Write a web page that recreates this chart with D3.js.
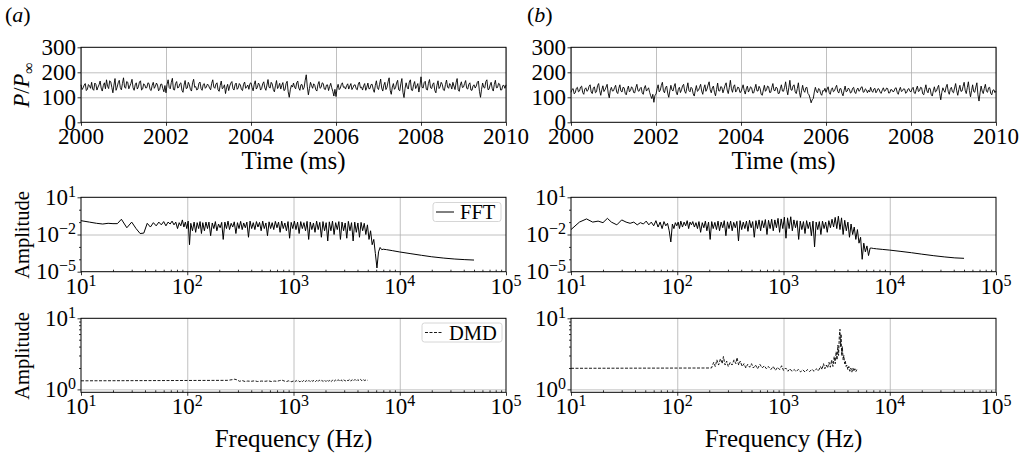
<!DOCTYPE html>
<html>
<head>
<meta charset="utf-8">
<script src="https://d3js.org/d3.v7.min.js"></script>
<style>
  body { margin:0; background:#fff; }
  svg { display:block; font-family:"Liberation Serif", "DejaVu Serif", serif; }
  .grid line { stroke:#b0b0b0; stroke-width:0.8; }
  .grid path, .tk path { display:none; }
  .tk line { stroke:#000; stroke-width:0.8; }
  .frame { fill:none; stroke:#000; stroke-width:1; }
  .lbl { fill:#000; }
</style>
</head>
<body>
<svg width="1025" height="455"></svg>
<script>
// ---------- data ----------
var timeStart = 2000, timeStep = 0.025;   // ms, sample spacing of the pressure traces
var pressureA = [
  150,131,138,149,155,127,132,151,146,136,160,133,128,157,152,129,141,150,165,137,125,147,158,134,170,144,135,166,162,140,118,149,175,128,140,158,168,139,130,155,
  178,141,136,163,160,134,145,156,172,138,128,150,158,133,142,161,166,129,133,154,150,137,139,158,155,131,127,148,160,136,144,157,149,126,131,152,153,135,122,147,
  118,152,170,139,134,160,176,131,129,155,163,137,140,154,158,128,120,149,167,135,137,160,150,131,125,158,172,140,143,129,133,156,161,135,128,151,155,136,141,153,
  148,137,130,156,170,141,136,153,158,130,124,147,165,134,139,150,115,138,152,127,145,157,163,135,129,150,157,132,138,155,149,131,127,152,161,136,142,149,132,155,
  158,139,126,152,166,133,140,157,150,129,135,154,162,138,128,149,171,140,137,160,153,131,122,146,167,135,143,156,133,148,159,127,130,155,164,122,100,130,148,141,
  157,140,134,158,165,137,128,150,151,131,139,168,190,142,110,135,160,147,136,154,148,130,125,151,163,136,140,158,155,133,131,149,150,127,143,156,138,124,105,132,
  103,137,152,131,136,151,158,140,142,133,147,154,133,145,155,131,139,149,150,134,130,153,161,138,141,129,146,155,128,140,157,134,135,151,152,132,120,147,166,138,
  131,152,173,137,125,148,160,131,140,162,178,128,112,141,155,132,138,157,168,130,126,154,175,120,99,136,158,140,133,161,170,129,127,150,163,135,144,155,121,146,
  182,140,137,159,164,132,129,156,171,138,135,152,158,127,118,148,166,135,142,160,152,130,127,151,169,141,136,155,148,133,160,145,131,158,175,130,124,149,162,139,
  141,155,167,136,133,152,158,129,128,146,150,137,145,160,165,124,100,132,157,140,137,163,170,131,132,149,160,136,125,151,168,138,139,156,153,129,130,147,148,136,150];
var pressureB = [
  120,131,135,114,118,136,140,122,125,141,145,119,112,133,138,124,128,144,150,121,115,137,142,118,122,147,155,126,108,130,146,123,130,141,152,117,98,128,140,125,
  126,139,148,121,115,136,150,125,121,140,138,116,110,131,145,122,127,142,136,119,118,139,152,127,124,135,140,118,112,137,147,125,131,138,120,106,95,112,80,108,
  112,134,150,122,128,147,160,126,118,139,145,117,100,125,148,130,125,143,155,121,110,132,140,119,130,146,152,124,116,137,158,127,122,140,135,114,105,128,147,124,
  128,140,152,125,112,136,150,124,133,149,162,130,118,137,145,120,106,131,157,126,125,143,140,118,132,148,158,129,115,139,168,134,120,143,150,121,128,141,138,119,
  122,136,150,127,113,134,145,121,130,142,138,117,118,136,152,126,125,144,135,112,108,129,148,124,130,145,142,119,120,139,155,128,126,141,137,115,116,134,150,125,
  124,140,162,131,110,139,168,130,128,146,150,122,115,135,158,120,100,126,148,127,120,138,140,115,110,96,78,90,95,121,140,124,118,135,132,114,108,127,125,136,
  120,133,142,119,112,131,138,122,126,139,148,124,117,134,135,116,106,127,145,122,125,137,132,117,120,136,140,121,115,130,137,124,128,140,142,120,122,134,130,118,
  128,121,140,126,120,133,136,118,125,135,132,119,116,130,138,124,127,137,135,117,118,131,130,122,124,136,138,120,112,129,140,123,126,134,133,116,120,132,135,124,
  122,134,140,118,115,133,145,123,126,140,138,114,110,131,150,125,118,137,135,112,105,126,142,121,125,139,148,115,90,120,138,127,120,141,152,124,112,132,140,122,
  118,137,155,126,108,131,148,124,125,143,160,128,115,139,162,127,102,126,150,123,120,141,158,110,85,118,145,125,115,136,152,124,120,138,140,116,110,128,130,119,125];

var fftFreqLow = [10,12,14,16,18,20,22,24,27,30,33,36,39,42,45,48,51,54,57,60,
  63,66,69,72,75,78,81,84,87,90,93,96,99,102,105,108,112,116,120,124,128,132,136,140,145,150];
var fftFreqMid = [155,160,166,172,178,184,190,197,204,211,218,226,234,242,250,259,268,277,287,297,
  307,318,329,340,352,364,377,390,404,418,433,448,463,479,496,513,531,550,569,589,
  609,630,652,675,699,723,748,774,801,829,858,888,919,951,985,1019,1055,1092,1130,1170,
  1211,1253,1297,1342,1389,1438,1488,1540,1594,1650,1708,1768,1830,1894,1960,2029,2100,2173,2249,2328,
  2410,2494,2581,2672,2765,2862,2962,3066,3173,3284,3399,3518,3641,3769,3901,4037,4178,4325,4476,4633,
  4795,4963,5136,5316,5502,5695,5894,6100,6314,6535,6764,7000];
var fftFreqTail = [7500,8500,10000,12500,16000,20000,26000,33000,41000,50000];

var fftLowA = [0.13,0.1,0.08,0.07,0.08,0.075,0.075,0.17,0.035,0.1,0.03,0.012,0.013,0.08,0.04,0.09,0.05,0.1,0.06,0.11,
  0.05,0.1,0.07,0.12,0.06,0.1,0.03,0.09,0.05,0.15,0.04,0.1,0.03,0.12,0.0015,0.08,0.02,0.1,0.015,0.09,0.03,0.11,0.012,0.09,0.02,0.1];
var fftMidA = [0.03,0.1,0.008,0.085,0.03,0.11,0.02,0.07,0.035,0.095,
  0.004,0.1,0.03,0.12,0.025,0.08,0.04,0.105,0.012,0.09,
  0.03,0.115,0.025,0.085,0.035,0.1,0.006,0.12,0.03,0.09,
  0.025,0.11,0.04,0.095,0.02,0.12,0.03,0.085,0.008,0.105,
  0.03,0.09,0.025,0.115,0.035,0.1,0.015,0.12,0.03,0.085,
  0.02,0.11,0.005,0.095,0.03,0.12,0.025,0.1,0.012,0.11,
  0.03,0.09,0.02,0.115,0.004,0.1,0.025,0.085,0.015,0.12,
  0.025,0.095,0.006,0.11,0.02,0.09,0.003,0.105,0.02,0.12,
  0.01,0.09,0.025,0.11,0.004,0.1,0.02,0.085,0.005,0.115,
  0.02,0.09,0.003,0.1,0.015,0.085,0.006,0.095,0.02,0.08,
  0.01,0.06,0.004,0.02,0.0015,0.004,0.0003,0.00002,0.0004,0.0009,0.0006,0.00065];
var fftTailA = [6e-4,5e-4,3.9e-4,2.9e-4,2.1e-4,1.6e-4,1.25e-4,1.05e-4,9.4e-5,8.7e-5];

var fftLowB = [0.025,0.1,0.18,0.1,0.12,0.09,0.2,0.1,0.06,0.15,0.1,0.08,0.1,0.06,0.09,0.07,0.12,0.06,0.1,0.05,
  0.13,0.04,0.1,0.03,0.11,0.05,0.08,0.02,0.0025,0.07,0.03,0.09,0.05,0.1,0.03,0.12,0.04,0.1,0.05,0.13,0.03,0.1,0.06,0.11,0.04,0.09];
var fftMidB = [0.03,0.11,0.015,0.09,0.035,0.12,0.02,0.1,0.004,0.11,
  0.03,0.095,0.025,0.12,0.02,0.1,0.035,0.13,0.008,0.105,
  0.03,0.12,0.02,0.095,0.035,0.115,0.003,0.13,0.025,0.1,
  0.03,0.12,0.018,0.14,0.035,0.11,0.006,0.13,0.03,0.15,
  0.02,0.13,0.035,0.16,0.01,0.14,0.03,0.17,0.02,0.15,
  0.035,0.2,0.015,0.18,0.03,0.25,0.005,0.22,0.03,0.27,
  0.02,0.15,0.035,0.13,0.004,0.12,0.025,0.11,0.012,0.13,
  0.03,0.1,0.008,0.12,0.001,0.1,0.025,0.11,0.01,0.12,
  0.03,0.1,0.015,0.13,0.035,0.17,0.04,0.24,0.03,0.3,
  0.025,0.22,0.01,0.14,0.02,0.1,0.006,0.07,0.01,0.04,
  0.004,0.025,0.002,0.006,0.0001,0.002,0.0004,0.0012,0.0002,0.0008,0.0008,0.00075];
var fftTailB = [7e-4,6.3e-4,5.5e-4,4.4e-4,3.4e-4,2.6e-4,1.95e-4,1.55e-4,1.3e-4,1.2e-4];

var dmdA = [[10,1.32],[240,1.34],[265,1.37],[280,1.39],[295,1.36],[310,1.3],[330,1.33],[350,1.29],[370,1.31],
  [400,1.3],[430,1.32],[460,1.29],[500,1.31],[540,1.3],[580,1.32],[620,1.29],[660,1.31],[700,1.3],[740,1.33],
  [780,1.35],[820,1.31],[860,1.29],[900,1.32],[950,1.28],[1000,1.31],[1030,1.28],[1060,1.33],[1090,1.29],
  [1120,1.32],[1150,1.27],[1180,1.33],[1215,1.29],[1250,1.34],[1285,1.28],[1320,1.33],[1360,1.29],[1400,1.34],
  [1440,1.28],[1480,1.33],[1520,1.3],[1565,1.35],[1610,1.29],[1655,1.34],[1700,1.28],[1750,1.35],[1800,1.3],
  [1850,1.34],[1900,1.29],[1960,1.35],[2020,1.29],[2080,1.36],[2140,1.3],[2200,1.35],[2270,1.29],[2340,1.36],
  [2410,1.3],[2480,1.35],[2560,1.31],[2640,1.37],[2720,1.3],[2800,1.36],[2890,1.31],[2980,1.37],[3070,1.31],
  [3160,1.36],[3260,1.32],[3360,1.38],[3460,1.31],[3570,1.37],[3680,1.32],[3790,1.38],[3910,1.31],[4030,1.37],
  [4150,1.32],[4280,1.38],[4410,1.32],[4550,1.37],[4690,1.33],[4840,1.37],[4990,1.34]];
var dmdB = [[10,1.98],[210,2.0],[220,2.4],[228,2.1],[236,2.6],[245,2.2],[255,2.7],[265,2.3],[272,2.9],[282,2.2],
  [292,2.5],[302,2.1],[315,2.4],[328,2.2],[342,2.6],[356,2.3],[365,2.8],[378,2.2],[392,2.5],[408,2.1],[425,2.3],
  [442,2.0],[460,2.25],[480,2.05],[500,2.3],[520,2.0],[545,2.2],[570,1.95],[600,2.25],[630,2.0],[660,2.15],
  [690,1.95],[720,2.1],[760,1.9],[800,2.1],[840,1.85],[880,2.05],[920,1.9],[960,2.15],[1000,1.85],[1050,2.0],
  [1100,1.8],[1150,1.95],[1200,1.8],[1260,1.9],[1320,1.78],[1380,1.92],[1450,1.76],[1520,1.88],[1600,1.75],
  [1680,1.9],[1760,1.78],[1850,1.92],[1940,1.8],[2030,1.95],[2130,1.82],[2230,2.1],[2300,1.9],[2380,2.3],
  [2450,1.95],[2530,2.2],[2600,2.0],[2680,2.4],[2760,2.05],[2840,2.6],[2920,2.1],[3000,2.9],[3070,2.3],
  [3130,3.4],[3190,2.6],[3250,4.2],[3300,3.0],[3350,5.5],[3400,7.0],[3440,4.0],[3480,6.0],[3530,3.0],
  [3580,4.0],[3640,2.6],[3700,3.0],[3760,2.3],[3820,2.5],[3880,2.1],[3950,2.2],[4030,1.9],[4120,2.1],
  [4210,1.8],[4300,2.0],[4400,1.75],[4500,2.0],[4600,1.8],[4700,1.95],[4800,1.78],[4900,1.9]];

var timeTicks = [2000,2002,2004,2006,2008,2010];
var pTicks = [0,100,200,300];
var freqTicks = [1e1,1e2,1e3,1e4,1e5];
var fftAmpTicks = [1e-5,1e-2,1e1];
var dmdAmpTicks = [1e0,1e1];

// ---------- layout ----------
var svg = d3.select("svg");
var cols = [[81,506],[571,996]];
var row1 = [122.3,47.3], row2 = [271.7,197.3], row3 = [392.3,318.3];
var tickFont = "23px", supFont = "16px", axisFont = "25px", ampFont = "20.5px", legFont = "20.5px";

function supLabel(sel, v, anchor) {
  var e = Math.round(Math.log10(v));
  sel.attr("text-anchor", anchor);
  sel.append("tspan").text("10");
  sel.append("tspan").attr("dy", "-0.5em").style("font-size", supFont)
    .text(String(e).replace("-", "\u2212"));
}

function panel(x, y, opts) {
  var g = svg.append("g");
  var x0 = x.range()[0], x1 = x.range()[1], yb = y.range()[0], yt = y.range()[1];
  // grid
  g.append("g").attr("class","grid").attr("transform","translate(0,"+yb+")")
    .call(d3.axisBottom(x).tickValues(opts.xgrid).tickSize(-(yb-yt)).tickFormat(""));
  g.append("g").attr("class","grid ygrid").attr("transform","translate("+x0+",0)")
    .call(d3.axisLeft(y).tickValues(opts.ygrid).tickSize(-(x1-x0)).tickFormat(""));
  // ticks
  g.append("g").attr("class","tk").attr("transform","translate(0,"+yb+")")
    .call(d3.axisBottom(x).tickValues(opts.xticks).tickSize(3.5).tickFormat(""));
  g.append("g").attr("class","tk").attr("transform","translate("+x0+",0)")
    .call(d3.axisLeft(y).tickValues(opts.yticks).tickSize(3.5).tickFormat(""));
  if (opts.xminor) g.append("g").attr("class","tk").attr("transform","translate(0,"+yb+")")
    .call(d3.axisBottom(x).tickValues(opts.xminor).tickSize(-2).tickFormat(""));
  if (opts.yminor) g.append("g").attr("class","tk").attr("transform","translate("+x0+",0)")
    .call(d3.axisLeft(y).tickValues(opts.yminor).tickSize(2).tickFormat(""));
  // tick labels
  g.selectAll(null).data(opts.xticks).join("text").attr("class","lbl").style("font-size", tickFont)
    .attr("x", function(d){ return x(d); }).attr("y", yb + 22)
    .each(function(d){
      var s = d3.select(this);
      if (opts.xlog) supLabel(s, d, "middle"); else s.attr("text-anchor","middle").text(d);
    });
  g.selectAll(null).data(opts.yticks).join("text").attr("class","lbl").style("font-size", tickFont)
    .attr("x", x0 - 5).attr("y", function(d){ return y(d); }).attr("dy", "0.33em")
    .each(function(d){
      var s = d3.select(this);
      if (opts.ylog) supLabel(s, d, "end"); else s.attr("text-anchor","end").text(d);
    });
  return g;
}

function frame(g, x, y) {
  g.append("rect").attr("class","frame")
    .attr("x", x.range()[0]).attr("y", y.range()[1])
    .attr("width", x.range()[1]-x.range()[0]).attr("height", y.range()[0]-y.range()[1]);
}

var minorF = [];
[10,100,1000,10000].forEach(function(b){ for (var k=2;k<10;k++) minorF.push(b*k); });
var minorDmd = [2,3,4,5,6,7,8,9];
var minorFft = [1e-4,1e-3,1e-1,1e0];

var fftFreq = fftFreqLow.concat(fftFreqMid, fftFreqTail);
var fftA = d3.zip(fftFreq, fftLowA.concat(fftMidA, fftTailA));
var fftB = d3.zip(fftFreq, fftLowB.concat(fftMidB, fftTailB));
var series = [
  {p: pressureA, fft: fftA, dmd: dmdA},
  {p: pressureB, fft: fftB, dmd: dmdB}
];

series.forEach(function(s, c) {
  var col = cols[c];
  // row 1: pressure trace
  var xt = d3.scaleLinear().domain([2000,2010]).range(col);
  var yp = d3.scaleLinear().domain([0,300]).range(row1);
  var g1 = panel(xt, yp, {xgrid: timeTicks, ygrid: [100,200], xticks: timeTicks, yticks: pTicks});
  g1.append("path").datum(s.p)
    .attr("d", d3.line().x(function(d,i){ return xt(timeStart + i*timeStep); }).y(function(d){ return yp(d); }))
    .attr("fill","none").attr("stroke","#000").attr("stroke-width",0.9);
  frame(g1, xt, yp);
  g1.append("text").attr("class","lbl").style("font-size", axisFont)
    .attr("x",(col[0]+col[1])/2).attr("y",169).attr("text-anchor","middle").text("Time (ms)");

  // row 2: FFT
  var xf = d3.scaleLog().domain([10,1e5]).range(col);
  var yf = d3.scaleLog().domain([1e-5,10]).range(row2);
  var g2 = panel(xf, yf, {xgrid: [1e2,1e3,1e4], ygrid: [1e-2], xticks: freqTicks, yticks: fftAmpTicks,
    xlog: true, ylog: true, xminor: minorF, yminor: minorFft});
  g2.append("path").datum(s.fft)
    .attr("d", d3.line().x(function(d){ return xf(d[0]); }).y(function(d){ return yf(d[1]); }))
    .attr("fill","none").attr("stroke","#000").attr("stroke-width",1);
  frame(g2, xf, yf);

  // row 3: DMD
  var xd = d3.scaleLog().domain([10,1e5]).range(col);
  var yd = d3.scaleLog().domain([0.91,10]).range(row3);
  var g3 = panel(xd, yd, {xgrid: [1e2,1e3,1e4], ygrid: [1], xticks: freqTicks, yticks: dmdAmpTicks,
    xlog: true, ylog: true, xminor: minorF, yminor: minorDmd});
  g3.selectAll(".ygrid line").attr("stroke-width", 2).attr("stroke", "#c8c8c8");
  g3.append("path").datum(s.dmd)
    .attr("d", d3.line().x(function(d){ return xd(d[0]); }).y(function(d){ return yd(d[1]); }))
    .attr("fill","none").attr("stroke","#000").attr("stroke-width",0.9).attr("stroke-dasharray","3,1.5");
  frame(g3, xd, yd);
  g3.append("text").attr("class","lbl").style("font-size", axisFont)
    .attr("x",(col[0]+col[1])/2).attr("y",447).attr("text-anchor","middle").text("Frequency (Hz)");
});

// legends
function legend(x, y, w, label, dash) {
  var g = svg.append("g");
  g.append("rect").attr("x",x).attr("y",y).attr("width",w).attr("height",19).attr("rx",2.5)
    .attr("fill","#fff").attr("fill-opacity",0.8).attr("stroke","#ccc").attr("stroke-width",0.8);
  g.append("line").attr("x1",x+3).attr("x2",x+21).attr("y1",y+9.5).attr("y2",y+9.5)
    .attr("stroke","#000").attr("stroke-width",dash?0.9:1).attr("stroke-dasharray",dash?"3,1.5":null);
  g.append("text").attr("class","lbl").style("font-size", legFont).attr("x",x+27).attr("y",y+16.5).text(label);
}
legend(433, 202.5, 68, "FFT", false);
legend(422, 323, 80, "DMD", true);

// y labels (left column only) and panel letters
function ylab(cy, size, build) {
  var t = svg.append("text").attr("class","lbl").style("font-size", size)
    .attr("transform","translate(29,"+cy+") rotate(-90)").attr("text-anchor","middle");
  build(t);
}
ylab(85, "22.5px", function(t){
  t.append("tspan").attr("font-style","italic").text("P");
  t.append("tspan").text("/");
  t.append("tspan").attr("font-style","italic").text("P");
  t.append("tspan").style("font-size","16px").attr("dy","0.3em").text("\u221E");
});
ylab(235, ampFont, function(t){ t.text("Amplitude"); });
ylab(356, ampFont, function(t){ t.text("Amplitude"); });

[["a",5],["b",527]].forEach(function(p){
  var t = svg.append("text").attr("class","lbl").style("font-size","22px").attr("x",p[1]).attr("y",22);
  t.append("tspan").text("(");
  t.append("tspan").attr("font-style","italic").text(p[0]);
  t.append("tspan").text(")");
});
</script>
</body>
</html>
